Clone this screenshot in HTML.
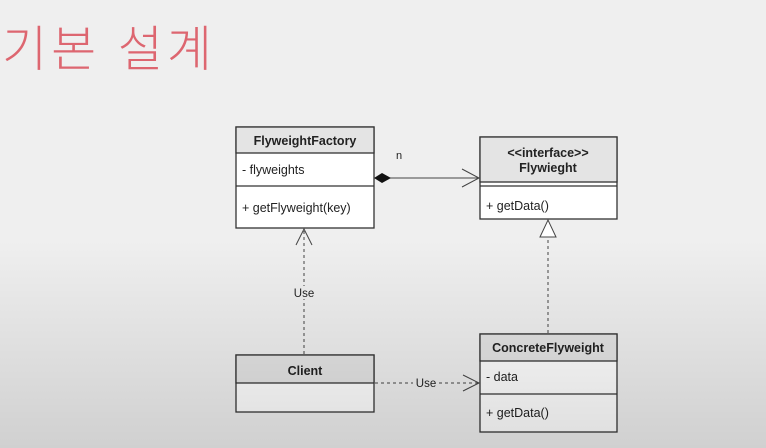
<!DOCTYPE html>
<html><head><meta charset="utf-8"><style>
html,body{margin:0;padding:0}
body{width:766px;height:448px;position:relative;overflow:hidden;background:#efefef;font-family:"Liberation Sans",sans-serif}
.t{position:absolute;left:2px;top:10px;font-family:"Liberation Sans","Noto Sans CJK KR",sans-serif;font-size:49px;color:#dd6670;letter-spacing:4px;font-weight:300}
.ov{position:absolute;left:0;top:0;width:766px;height:448px;background:linear-gradient(to bottom,rgba(0,0,0,0) 0,rgba(0,0,0,0) 240px,rgba(0,0,0,0.13) 448px);pointer-events:none}
</style></head><body>
<div class="t">기본 설계</div>
<svg width="766" height="448" style="position:absolute;left:0;top:0" font-family="Liberation Sans, sans-serif" font-size="12.5" fill="#222">
<g stroke="#333" stroke-width="1.3">
<rect x="236" y="127" width="138" height="101" fill="#fff"/>
<rect x="236" y="127" width="138" height="26" fill="#e4e4e4"/>
<line x1="236" y1="186" x2="374" y2="186"/>
<rect x="480" y="137" width="137" height="82" fill="#fff"/>
<rect x="480" y="137" width="137" height="45" fill="#e4e4e4"/>
<line x1="480" y1="186" x2="617" y2="186"/>
<rect x="480" y="334" width="137" height="98" fill="#fff"/>
<rect x="480" y="334" width="137" height="27" fill="#e4e4e4"/>
<line x1="480" y1="394" x2="617" y2="394"/>
<rect x="236" y="355" width="138" height="57" fill="#fff"/>
<rect x="236" y="355" width="138" height="28" fill="#e4e4e4"/>
</g>
<g stroke="#444" stroke-width="1" fill="none">
<line x1="390" y1="178" x2="479" y2="178"/>
<polyline points="462,169 479,178 462,187"/>
<line x1="304" y1="354" x2="304" y2="230" stroke-dasharray="3,3"/>
<polyline points="296,245 304,229 312,245"/>
<line x1="548" y1="333" x2="548" y2="238" stroke-dasharray="3,3"/>
<polygon points="540,237 548,220 556,237" fill="#fff"/>
<line x1="375" y1="383" x2="413" y2="383" stroke-dasharray="3,3"/>
<line x1="439" y1="383" x2="479" y2="383" stroke-dasharray="3,3"/>
<polyline points="463,375 479,383 463,391"/>
</g>
<polygon points="374,178 382,173 391,178 382,183" fill="#111"/>
<g font-weight="bold" text-anchor="middle">
<text x="305" y="145">FlyweightFactory</text>
<text x="548" y="157">&lt;&lt;interface&gt;&gt;</text>
<text x="548" y="172">Flywieght</text>
<text x="548" y="352">ConcreteFlyweight</text>
<text x="305" y="375">Client</text>
</g>
<text x="242" y="174">- flyweights</text>
<text x="242" y="212">+ getFlyweight(key)</text>
<text x="486" y="210">+ getData()</text>
<text x="486" y="381">- data</text>
<text x="486" y="417">+ getData()</text>
<text x="396" y="159" font-size="11">n</text>
<rect x="292" y="286" width="24" height="13" fill="#efefef"/>
<text x="304" y="297" text-anchor="middle" font-size="11.5">Use</text>
<text x="426" y="387" text-anchor="middle" font-size="11.5">Use</text>
</svg>
<div class="ov"></div>
</body></html>
